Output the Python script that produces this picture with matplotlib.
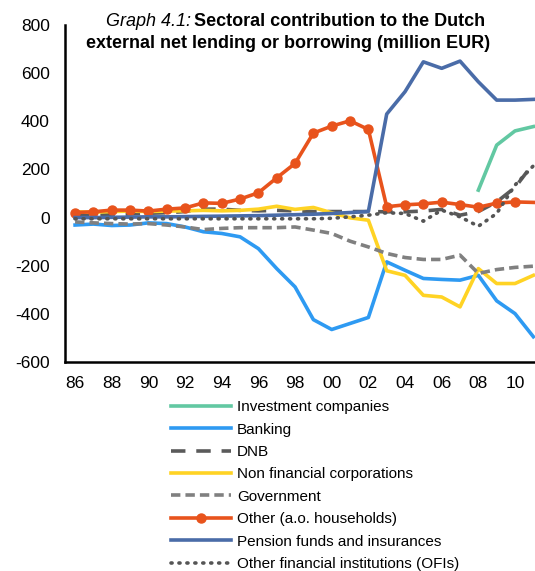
import numpy as np
import matplotlib
matplotlib.use("Agg")
import matplotlib.pyplot as plt
from matplotlib.legend_handler import HandlerLine2D

plt.rcParams['font.family'] = ['Liberation Sans', 'DejaVu Sans']
plt.rcParams['axes.unicode_minus'] = False

years = list(range(1986, 2012))
nan = np.nan

invest = [nan]*22 + [114, 301, 360, 378]
banking = [-31, -27, -33, -31, -22, -25, -39, -59, -66, -80, -129, -212, -288, -424,
           -465, -440, -415, -184, -219, -253, -257, -260, -240, -346, -399, -495]
dnb = [10, 10, 12, 15, 18, 20, 25, 35, 35, 30, 28, 30, 28, 25,
       25, 25, 25, 24, 24, 27, 34, 10, 25, 65, 125, 225]
nonfin = [24, 22, 25, 27, 25, 27, 28, 30, 28, 30, 35, 47, 34, 42,
          20, -1, -11, -221, -240, -323, -330, -371, -212, -274, -274, -240]
govt = [-18, -22, -25, -27, -25, -31, -39, -50, -45, -42, -42, -42, -39, -52,
        -66, -98, -122, -149, -166, -174, -174, -156, -232, -216, -207, -202]
other = [21, 24, 31, 31, 27, 35, 40, 61, 59, 77, 103, 165, 225, 351,
         380, 402, 366, 45, 53, 57, 64, 54, 43, 60, 65, 63]
pension = [0, 0, 1, 2, 3, 3, 4, 5, 6, 7, 8, 10, 12, 14,
           17, 21, 25, 430, 523, 647, 620, 650, 564, 488, 488, 491]
ofi = [-5, -5, -5, -5, -5, -5, -5, -5, -5, -5, -5, -5, -5, -5,
       -3, 3, 10, 20, 17, -15, 31, 3, -36, 17, 135, 215]

year_ticks = list(range(1986, 2011, 2))
tick_labels = ['86', '88', '90', '92', '94', '96', '98', '00', '02', '04', '06', '08', '10']


# excel style legend: marker sits at the left end of the line
class LeftMarker(HandlerLine2D):
    def get_xdata(self, legend, xdescent, ydescent, width, height, fontsize):
        xdata, xm = super().get_xdata(legend, xdescent, ydescent, width, height, fontsize)
        return xdata, [-xdescent + 2]


fig = plt.figure(figsize=(5.35, 5.71), dpi=100)
ax = fig.add_axes([65/535, 1-362/571, 1-65/535, (362-25)/571])

lw = 2.6
ax.plot(years, invest, color='#62c8a2', lw=lw, label='Investment companies')
ax.plot(years, banking, color='#2e9af2', lw=lw, label='Banking')
ax.plot(years, dnb, color='#5a5a5a', lw=lw, ls=(0, (4, 3)), label='DNB')
ax.plot(years, nonfin, color='#ffd324', lw=lw, label='Non financial corporations')
ax.plot(years, govt, color='#808080', lw=lw, ls=(0, (2.6, 1.4)), label='Government')
ax.plot(years, other, color='#e8531c', lw=lw, marker='o', ms=6.5,
        markevery=list(range(len(years) - 1)), label='Other (a.o. households)')
ax.plot(years, pension, color='#4a6ca8', lw=lw, label='Pension funds and insurances')
ax.plot(years, ofi, color='#555555', lw=lw, ls=(0, (0.3, 1.9)),
        dash_capstyle='round', label='Other financial institutions (OFIs)')

ax.set_xlim(1985.45, 2011.09)
ax.set_ylim(-600, 800)
ax.set_yticks(range(-600, 801, 200))
ax.set_xticks(year_ticks)
ax.set_xticklabels(tick_labels)
ax.tick_params(length=0, labelsize=12.5)
ax.tick_params(axis='y', pad=11)
ax.tick_params(axis='x', pad=10)
ax.spines['top'].set_visible(False)
ax.spines['right'].set_visible(False)
ax.spines['left'].set_linewidth(1.8)
ax.spines['bottom'].set_linewidth(1.8)

fig.text(191/535, 1-22/571, 'Graph 4.1:', ha='right', va='center', style='italic', fontsize=13)
fig.text(194/535, 1-22/571, 'Sectoral contribution to the Dutch', ha='left', va='center',
         weight='bold', fontsize=13)
fig.text(288/535, 1-44/571, 'external net lending or borrowing (million EUR)', ha='center',
         va='center', weight='bold', fontsize=13)

handles, labels = ax.get_legend_handles_labels()
fig.legend(handles, labels, loc='upper left', bbox_to_anchor=(165/535, 1-394/571),
           frameon=False, fontsize=11, handlelength=3.9, labelspacing=0.55,
           handletextpad=0.4, numpoints=1, borderaxespad=0,
           handler_map={handles[5]: LeftMarker(numpoints=1)})

fig.savefig('out.png', dpi=100)
